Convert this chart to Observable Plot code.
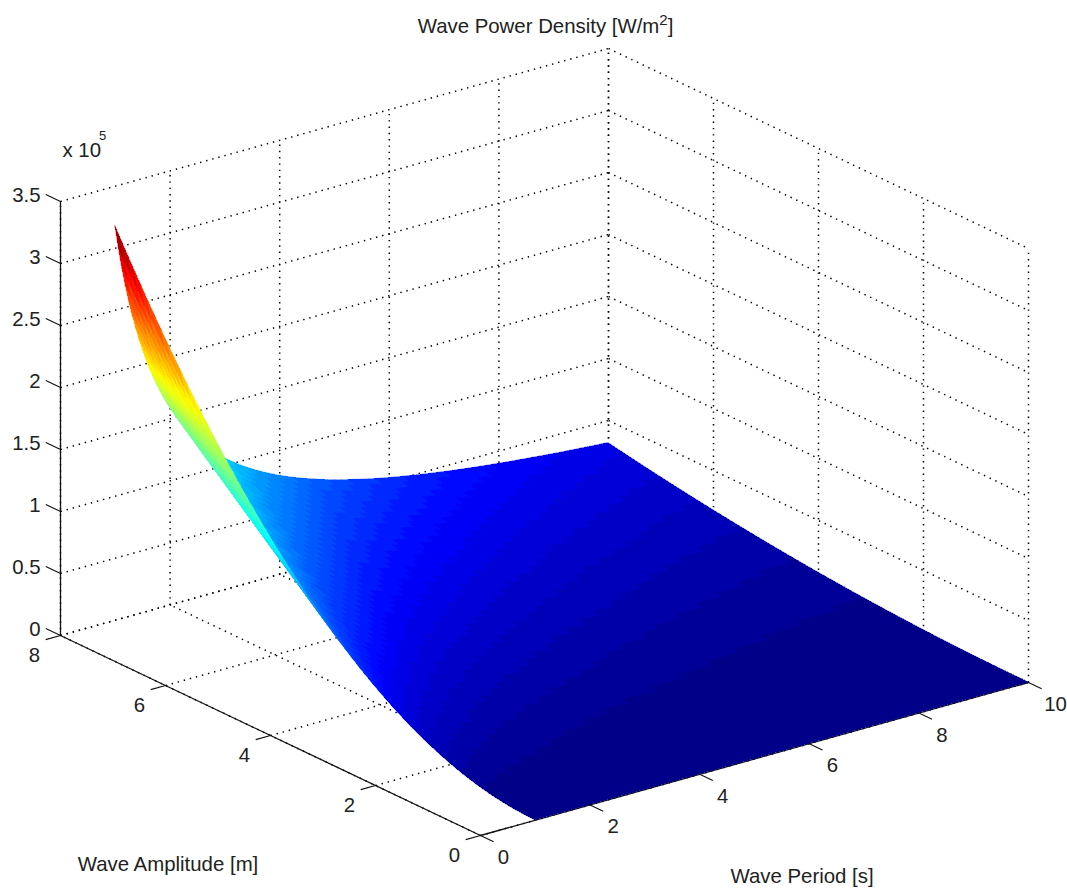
<!DOCTYPE html>
<html>
<head>
<meta charset="utf-8">
<style>
html,body{margin:0;padding:0;background:#fff;}
svg{display:block;}
</style>
<script src="https://cdn.jsdelivr.net/npm/d3@7"></script>
<script src="https://cdn.jsdelivr.net/npm/@observablehq/plot@0.6"></script>
</head>
<body>
<div id="chart"></div>
<script>
// Wave period samples [s]
const periods = [1,1.0625,1.125,1.1875,1.25,1.3125,1.375,1.4375,1.5,1.5625,1.625,1.6875,1.75,1.8125,1.875,1.9375,2,2.125,2.25,2.375,2.5,2.625,2.75,2.875,3,3.125,3.25,3.375,3.5,3.625,3.75,3.875,4,4.125,4.25,4.375,4.5,4.625,4.75,4.875,5,5.125,5.25,5.375,5.5,5.625,5.75,5.875,6,6.125,6.25,6.375,6.5,6.625,6.75,6.875,7,7.125,7.25,7.375,7.5,7.625,7.75,7.875,8,8.125,8.25,8.375,8.5,8.625,8.75,8.875,9,9.125,9.25,9.375,9.5,9.625,9.75,9.875,10];
// Height of the surface along its back edge (amplitude 8 m) at each period [W/m2]
const powerAtMaxAmplitude = [318000,299300,282700,267800,254400,242300,231300,221200,212000,203500,195700,188400,181700,175400,169600,164100,159000,149600,141300,133900,127200,121100,115600,110600,106000,101800,97800,94200,90900,87700,84800,82100,79500,77100,74800,72700,70700,68800,66900,65200,63600,62000,60600,59200,57800,56500,55300,54100,53000,51900,50900,49900,48900,48000,47100,46300,45400,44600,43900,43100,42400,41700,41000,40400,39800,39100,38500,38000,37400,36900,36300,35800,35300,34800,34400,33900,33500,33000,32600,32200,31800];
// Wave amplitude samples [m]
const amplitudes = [0,0.125,0.25,0.375,0.5,0.625,0.75,0.875,1,1.125,1.25,1.375,1.5,1.625,1.75,1.875,2,2.125,2.25,2.375,2.5,2.625,2.75,2.875,3,3.125,3.25,3.375,3.5,3.625,3.75,3.875,4,4.125,4.25,4.375,4.5,4.625,4.75,4.875,5,5.125,5.25,5.375,5.5,5.625,5.75,5.875,6,6.125,6.25,6.375,6.5,6.625,6.75,6.875,7,7.125,7.25,7.375,7.5,7.625,7.75,7.875,8];
// Height of the surface along its front-left edge (period 1 s) at each amplitude [W/m2]
const powerAtMinPeriod = [0,78,311,699,1242,1941,2795,3804,4969,6289,7764,9394,11180,13120,15220,17470,19880,22440,25150,28030,31050,34240,37580,41070,44720,48520,52480,56600,60870,65290,69870,74610,79500,84550,89750,95100,100600,106300,112100,118100,124200,130500,137000,143600,150300,157200,164300,171500,178900,186400,194100,201900,209900,218100,226400,234900,243500,252200,261200,270200,279500,288900,298400,308100,318000];

const periodTicks = [0,2,4,6,8,10];
const amplitudeTicks = [0,2,4,6,8];
const powerTicks = [0,0.5,1,1.5,2,2.5,3,3.5];
const powerTickLabels = ["0","0.5","1","1.5","2","2.5","3","3.5"];

const jetStops = ["#000080","#0000ff","#00ffff","#ffff00","#ff0000","#800000"];
const jetOffsets = [0,0.125,0.375,0.625,0.875,1];

const peak = powerAtMinPeriod[powerAtMinPeriod.length - 1];
const levels = 64;
const jet = d3.scaleLinear().domain(jetOffsets).range(jetStops).interpolate(d3.interpolateRgb);
const jetRange = d3.range(levels).map(i => jet((i + 0.5) / levels));
const jetThresholds = d3.range(1, levels).map(i => i / levels * peak);

// Fixed MATLAB-style 3D view: period, amplitude, power (in units of 1e5)
const sx = (t, a) => 480 + 54.8 * t - 52.5 * a;
const sy = (t, a, p) => 835 - 15.3 * t - 25 * a - 124 * p;

const power = (ti, ai) => powerAtMaxAmplitude[ti] * powerAtMinPeriod[ai] / peak;

// Quads, far corner first so that nearer facets paint over farther ones
const quads = [];
for (let ti = periods.length - 2; ti >= 0; --ti) {
  for (let ai = amplitudes.length - 2; ai >= 0; --ai) {
    const v = (power(ti, ai) + power(ti + 1, ai) + power(ti, ai + 1) + power(ti + 1, ai + 1)) / 4;
    const q = ti * 1000 + ai;
    const row = (k) => ({
      q, v,
      x1: sx(periods[ti], amplitudes[k]),
      y1: sy(periods[ti], amplitudes[k], power(ti, k) / 1e5),
      x2: sx(periods[ti + 1], amplitudes[k]),
      y2: sy(periods[ti + 1], amplitudes[k], power(ti + 1, k) / 1e5)
    });
    quads.push(row(ai), row(ai + 1));
  }
}

const maxP = powerTicks[powerTicks.length - 1];
const maxT = periodTicks[periodTicks.length - 1];
const maxA = amplitudeTicks[amplitudeTicks.length - 1];
const seg = (t1, a1, p1, t2, a2, p2) => ({
  x1: sx(t1, a1), y1: sy(t1, a1, p1), x2: sx(t2, a2), y2: sy(t2, a2, p2)
});

const grid = [
  ...periodTicks.map(t => seg(t, maxA, 0, t, maxA, maxP)),
  ...amplitudeTicks.map(a => seg(maxT, a, 0, maxT, a, maxP)),
  ...periodTicks.map(t => seg(t, 0, 0, t, maxA, 0)),
  ...amplitudeTicks.map(a => seg(0, a, 0, maxT, a, 0)),
  ...powerTicks.map(p => seg(0, maxA, p, maxT, maxA, p)),
  ...powerTicks.map(p => seg(maxT, maxA, p, maxT, 0, p))
];
const axes = [
  seg(0, maxA, 0, 0, maxA, maxP),
  seg(0, 0, 0, 0, maxA, 0),
  seg(0, 0, 0, maxT, 0, 0)
];
const ticks = [
  ...powerTicks.map(p => seg(0, maxA, p, 0, maxA + 0.28, p)),
  ...amplitudeTicks.map(a => seg(0, a, 0, -0.27, a, 0)),
  ...periodTicks.map(t => seg(t, 0, 0, t, -0.25, 0))
];

const font = "'Liberation Sans', Arial, sans-serif";
const ink = "#222";
const textOpts = {fontSize: 20.4, fill: ink, fontFamily: font};

const plot = Plot.plot({
  width: 1067,
  height: 890,
  margin: 0,
  style: {background: "#fff", fontFamily: font},
  x: {domain: [0, 1067], range: [0, 1067], axis: null},
  y: {domain: [0, 890], range: [0, 890], axis: null},
  color: {type: "threshold", domain: jetThresholds, range: jetRange},
  marks: [
    Plot.link(grid, {x1: "x1", y1: "y1", x2: "x2", y2: "y2", stroke: "#000", strokeWidth: 1.5, strokeDasharray: "1.4 4.9"}),
    Plot.link(axes, {x1: "x1", y1: "y1", x2: "x2", y2: "y2", stroke: "#111", strokeWidth: 1.3}),
    Plot.link(ticks, {x1: "x1", y1: "y1", x2: "x2", y2: "y2", stroke: "#111", strokeWidth: 1.1}),
    Plot.area(quads, {x1: "x1", y1: "y1", x2: "x2", y2: "y2", z: "q", fill: "v", stroke: "v", strokeWidth: 0.5, shapeRendering: "crispEdges"}),
    Plot.text(powerTicks, {x: () => sx(0, maxA) - 20, y: p => sy(0, maxA, p) - 6, text: (p, i) => powerTickLabels[i], textAnchor: "end", ...textOpts}),
    Plot.text(amplitudeTicks, {x: a => sx(0, a) - 26, y: a => sy(0, a, 0) + 20, text: a => String(a), ...textOpts}),
    Plot.text(periodTicks, {x: t => sx(t, 0) + (t === 10 ? 27 : 23), y: t => sy(t, 0, 0) + 22, text: t => String(t), ...textOpts}),
    Plot.text(["Wave Power Density [W/m^2]"], {x: () => 545, y: () => 26, text: d => d, ...textOpts}),
    Plot.text(["Wave Amplitude [m]"], {x: () => 167.5, y: () => 864, text: d => d, ...textOpts}),
    Plot.text(["Wave Period [s]"], {x: () => 801.5, y: () => 876, text: d => d, ...textOpts}),
    Plot.text(["x 10^5"], {x: () => 62, y: () => 150, text: d => d, textAnchor: "start", ...textOpts})
  ]
});

// Superscripts in the labels, as MATLAB's TeX interpreter draws them
d3.select(plot).selectAll("text").each(function () {
  const s = this.textContent;
  if (!s.includes("^")) return;
  const [base, rest] = s.split("^");
  const high = base.startsWith("x");
  const lift = high ? -17 : -8;
  const el = d3.select(this).text(base);
  el.append("tspan").attr("dy", lift).attr("dx", high ? -2 : 0)
    .attr("font-size", high ? 13 : 15).text(rest[0]);
  if (rest.length > 1) el.append("tspan").attr("dy", -lift).text(rest.slice(1));
});

document.getElementById("chart").append(plot);
</script>
</body>
</html>
